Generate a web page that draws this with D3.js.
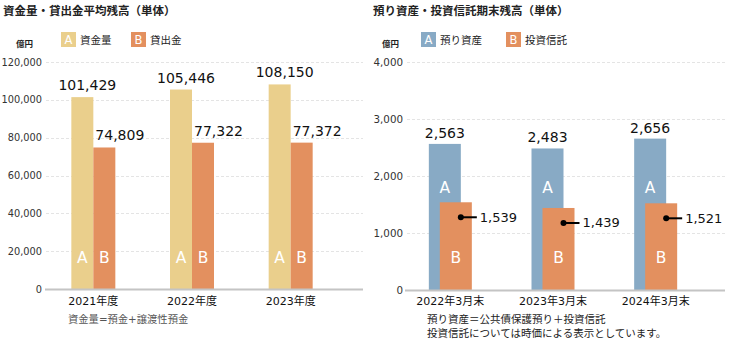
<!DOCTYPE html>
<html>
<head>
<meta charset="utf-8">
<script src="https://cdn.jsdelivr.net/npm/d3@7/dist/d3.min.js"></script>
<style>
  html, body { margin: 0; padding: 0; background: #fff; }
  svg { display: block; }
  text { font-family: "DejaVu Sans", "Noto Sans CJK JP", sans-serif; }
</style>
</head>
<body>
<svg id="chart" width="730" height="344"></svg>
<script>
// 資金量・貸出金（億円）
const yearsL = ["2021年度", "2022年度", "2023年度"];
const depositsL = [101429, 105446, 108150];
const loansL = [74809, 77322, 77372];
const ticksL = [0, 20000, 40000, 60000, 80000, 100000, 120000];

// 預り資産・投資信託（億円）
const periodsR = ["2022年3月末", "2023年3月末", "2024年3月末"];
const assetsR = [2563, 2483, 2656];
const trustsR = [1539, 1439, 1521];
const ticksR = [0, 1000, 2000, 3000, 4000];

const colGold = "#EACF8C";
const colOrange = "#E3905F";
const colBlue = "#88AAC5";
const fmt = d3.format(",");

const svg = d3.select("#chart");

function panel(o) {
  const g = svg.append("g");
  const x = d3.scaleBand().domain(o.cats).range(o.xr);
  const y = d3.scaleLinear().domain([0, o.max]).range([o.y0, 62]);

  // title
  g.append("text").attr("x", o.titleX).attr("y", 15)
    .attr("font-size", 11.5).attr("font-weight", "bold").attr("fill", "#222")
    .text(o.title);

  // unit
  g.append("text").attr("x", o.unitX).attr("y", 47)
    .attr("font-size", 8.5).attr("font-weight", "bold").attr("fill", "#222")
    .text("億円");

  // legend
  o.legend.forEach(l => {
    g.append("rect").attr("x", l.x).attr("y", 32).attr("width", 15).attr("height", 15).attr("fill", l.color);
    g.append("text").attr("x", l.x + 7.5).attr("y", 44).attr("text-anchor", "middle")
      .attr("font-size", 11.5).attr("fill", "#fff").text(l.key);
    g.append("text").attr("x", l.x + 19).attr("y", 44)
      .attr("font-size", 10.5).attr("fill", "#222").text(l.label);
  });

  // grid + y tick labels
  const axisY = d3.axisLeft(y).tickValues(o.ticks).tickFormat(fmt).tickSize(0).tickPadding(0);
  const ay = g.append("g").attr("transform", `translate(${o.tickX},0)`).call(axisY);
  ay.select(".domain").remove();
  ay.selectAll("text").attr("font-size", o.tickFont).attr("fill", "#333")
    .attr("font-family", "\"DejaVu Sans\", sans-serif");

  g.selectAll(".grid").data(o.ticks.filter(t => t > 0)).join("line")
    .attr("x1", o.tickX + 4).attr("x2", o.axisEnd)
    .attr("y1", d => Math.round(y(d)) + 0.5).attr("y2", d => Math.round(y(d)) + 0.5)
    .attr("stroke", "#e4e4e4").attr("stroke-dasharray", "3,2");

  return { g, x, y };
}

// ---------- left panel ----------
{
  const { g, x, y } = panel({
    cats: yearsL, xr: [44, 340], max: 120000, y0: 289, ticks: ticksL, tickFont: 9.8,
    title: "資金量・貸出金平均残高（単体）", titleX: 3, unitX: 16, tickX: 42, axisEnd: 363,
    legend: [{ x: 61, color: colGold, key: "A", label: "資金量" },
             { x: 131, color: colOrange, key: "B", label: "貸出金" }]
  });
  const bw = 22;
  yearsL.forEach((c, i) => {
    const cx = x(c) + x.bandwidth() / 2;
    g.append("rect").attr("x", cx - bw).attr("width", bw)
      .attr("y", y(depositsL[i])).attr("height", y(0) - y(depositsL[i])).attr("fill", colGold);
    g.append("rect").attr("x", cx).attr("width", bw)
      .attr("y", y(loansL[i])).attr("height", y(0) - y(loansL[i])).attr("fill", colOrange);
    g.append("text").attr("x", cx - 6).attr("y", y(depositsL[i]) - 7).attr("text-anchor", "middle")
      .attr("font-size", 14).attr("fill", "#111").text(fmt(depositsL[i]));
    g.append("text").attr("x", cx + 2).attr("y", y(loansL[i]) - 7)
      .attr("font-size", 14).attr("fill", "#111").text(fmt(loansL[i]));
    g.append("text").attr("x", cx - bw / 2).attr("y", 263).attr("text-anchor", "middle")
      .attr("font-size", 15.5).attr("fill", "#fff").text("A");
    g.append("text").attr("x", cx + bw / 2).attr("y", 263).attr("text-anchor", "middle")
      .attr("font-size", 15.5).attr("fill", "#fff").text("B");
  });
  g.append("line").attr("x1", 45).attr("x2", 363).attr("y1", 289.5).attr("y2", 289.5)
    .attr("stroke", "#c4c4c4").attr("stroke-width", 2);
  const ax = d3.axisBottom(x).tickSize(0).tickPadding(0);
  const axg = g.append("g").attr("transform", "translate(0,297)").call(ax);
  axg.select(".domain").remove();
  axg.selectAll("text").attr("font-size", 11).attr("fill", "#111").attr("dy", "0.71em");
  g.append("text").attr("x", 68).attr("y", 323).attr("font-size", 10.3).attr("fill", "#555")
    .text("資金量=預金+譲渡性預金");
}

// ---------- right panel ----------
{
  const { g, x, y } = panel({
    cats: periodsR, xr: [399, 707], max: 4000, y0: 290, ticks: ticksR, tickFont: 10.3,
    title: "預り資産・投資信託期末残高（単体）", titleX: 373, unitX: 382, tickX: 403, axisEnd: 727,
    legend: [{ x: 421, color: colBlue, key: "A", label: "預り資産" },
             { x: 506, color: colOrange, key: "B", label: "投資信託" }]
  });
  const bw = 32, off = 11;
  periodsR.forEach((c, i) => {
    const left = x(c) + x.bandwidth() / 2 - (bw + off) / 2;
    const bx = left + off;
    g.append("rect").attr("x", left).attr("width", bw)
      .attr("y", y(assetsR[i])).attr("height", y(0) - y(assetsR[i])).attr("fill", colBlue);
    g.append("rect").attr("x", bx).attr("width", bw)
      .attr("y", y(trustsR[i])).attr("height", y(0) - y(trustsR[i])).attr("fill", colOrange);
    g.append("text").attr("x", left + bw / 2).attr("y", y(assetsR[i]) - 6).attr("text-anchor", "middle")
      .attr("font-size", 14).attr("fill", "#111").text(fmt(assetsR[i]));
    // callout for trust balance
    const dx = bx + bw / 2 + 5, dy = y(trustsR[i]) + 15;
    g.append("line").attr("x1", dx).attr("x2", dx + 16).attr("y1", dy).attr("y2", dy)
      .attr("stroke", "#000").attr("stroke-width", 2);
    g.append("circle").attr("cx", dx).attr("cy", dy).attr("r", 3).attr("fill", "#000");
    g.append("text").attr("x", dx + 19).attr("y", dy + 4.5)
      .attr("font-size", 13).attr("fill", "#111").text(fmt(trustsR[i]));
    g.append("text").attr("x", left + bw / 2).attr("y", 193).attr("text-anchor", "middle")
      .attr("font-size", 15.5).attr("fill", "#fff").text("A");
    g.append("text").attr("x", bx + bw / 2).attr("y", 263).attr("text-anchor", "middle")
      .attr("font-size", 15.5).attr("fill", "#fff").text("B");
  });
  g.append("line").attr("x1", 405).attr("x2", 725).attr("y1", 290.5).attr("y2", 290.5)
    .attr("stroke", "#c4c4c4").attr("stroke-width", 2);
  const ax = d3.axisBottom(x).tickSize(0).tickPadding(0);
  const axg = g.append("g").attr("transform", "translate(0,297)").call(ax);
  axg.select(".domain").remove();
  axg.selectAll("text").attr("font-size", 11).attr("fill", "#111").attr("dy", "0.71em");
  g.append("text").attr("x", 427).attr("y", 323).attr("font-size", 10.5).attr("fill", "#222")
    .text("預り資産＝公共債保護預り＋投資信託");
  g.append("text").attr("x", 427).attr("y", 337).attr("font-size", 10.5).attr("fill", "#222")
    .text("投資信託については時価による表示としています。");
}
</script>
</body>
</html>
